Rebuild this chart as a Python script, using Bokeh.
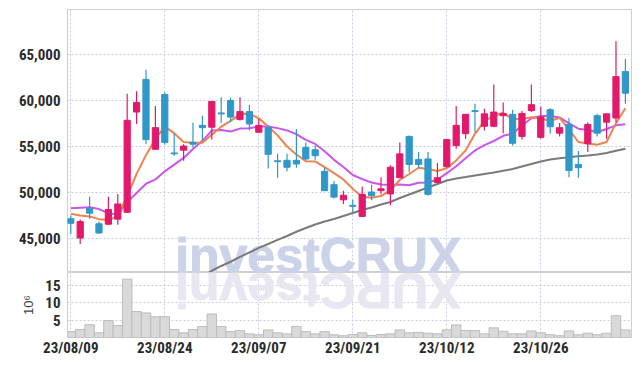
import math
from bokeh.plotting import figure
from bokeh.models import ColumnDataSource, FixedTicker, NumeralTickFormatter, Range1d, Label
from bokeh.layouts import column
from bokeh.embed import file_html
from bokeh.resources import INLINE

# ---------------- data ----------------
dates = ["23/08/09", "23/08/10", "23/08/11", "23/08/14", "23/08/16", "23/08/17", "23/08/18", "23/08/21",
         "23/08/22", "23/08/23", "23/08/24", "23/08/25", "23/08/28", "23/08/29", "23/08/30", "23/08/31",
         "23/09/01", "23/09/04", "23/09/05", "23/09/06", "23/09/07", "23/09/08", "23/09/11", "23/09/12",
         "23/09/13", "23/09/14", "23/09/15", "23/09/18", "23/09/19", "23/09/20", "23/09/21", "23/09/22",
         "23/09/25", "23/09/26", "23/09/27", "23/10/04", "23/10/05", "23/10/06", "23/10/10", "23/10/11",
         "23/10/12", "23/10/13", "23/10/16", "23/10/17", "23/10/18", "23/10/19", "23/10/20", "23/10/23",
         "23/10/24", "23/10/25", "23/10/26", "23/10/27", "23/10/30", "23/10/31", "23/11/01", "23/11/02",
         "23/11/03", "23/11/06", "23/11/07", "23/11/08"]

opens = [47150, 45050, 48300, 46600, 46550, 47100, 47850, 58750, 62300, 54700,
         60650, 54300, 54600, 55450, 57300, 57100, 58650, 60000, 57950, 58800,
         56550, 57050, 53450, 53500, 53500, 54900, 54650, 52300, 50850, 49200,
         48600, 47400, 50050, 50200, 49850, 51600, 56100, 53600, 53650, 51100,
         52800, 55100, 56400, 58900, 57200, 57200, 58350, 58500, 56100, 58900,
         56000, 59000, 56450, 57400, 53050, 55300, 58350, 57650, 58100, 63150]
highs = [47500, 47050, 49550, 46850, 49550, 49850, 60750, 61000, 63350, 59400,
         60900, 56400, 55250, 57600, 58350, 59950, 60350, 60300, 60350, 59550,
         58000, 57300, 54200, 54200, 56900, 55450, 55100, 52700, 51250, 50200,
         49200, 50650, 50850, 51650, 52950, 55450, 56200, 54400, 54400, 53200,
         55800, 59400, 58500, 59650, 59100, 61750, 59800, 59000, 58850, 61750,
         59350, 59200, 57550, 58100, 54500, 57650, 58550, 58600, 66450, 64550]
lows = [45500, 44400, 47150, 45500, 46500, 46500, 47800, 57450, 55300, 54650,
        55200, 54000, 53450, 54900, 55650, 55750, 57550, 57650, 57800, 56750,
        56500, 52600, 51600, 52300, 52700, 53500, 53550, 50150, 49350, 48750,
        47850, 47400, 49150, 49800, 48600, 51600, 52200, 52700, 49650, 51100,
        52750, 54750, 55850, 56550, 56750, 57100, 56450, 55100, 55750, 58750,
        55850, 56400, 56100, 51650, 51600, 54400, 56100, 55850, 57650, 59650]
closes = [46650, 46850, 47750, 45600, 48150, 48750, 57850, 59800, 55750, 57050,
          55450, 54200, 55050, 55250, 57050, 59900, 58550, 58200, 58800, 57450,
          57300, 54150, 53350, 52750, 53100, 53650, 54000, 50200, 49500, 49700,
          48500, 49800, 49650, 50400, 52750, 54200, 53050, 53050, 49800, 51600,
          55750, 57300, 58500, 58800, 58550, 58750, 58600, 55350, 58600, 59550,
          58200, 57150, 57050, 52400, 52700, 57400, 56450, 58550, 62600, 60800]

# volume, in millions of shares
volume_m = [1.7, 2.3, 3.7, 1.35, 4.9, 3.45, 16.9, 7.5, 7.1, 6.0,
            6.0, 2.3, 1.35, 2.3, 3.2, 6.8, 3.2, 1.7, 2.0, 1.05,
            0.8, 2.2, 1.35, 1.05, 3.2, 1.7, 1.05, 1.7, 0.8, 0.5,
            0.86, 1.35, 0.57, 0.86, 1.05, 2.2, 1.35, 1.5, 1.25, 1.05,
            2.2, 3.65, 2.0, 2.0, 1.05, 2.8, 1.8, 1.05, 1.05, 1.9,
            1.35, 0.8, 0.5, 1.9, 0.8, 1.25, 0.8, 1.25, 6.3, 2.2]

ma5 = [47700, 47500, 47400, 47100, 47000, 47420, 49620, 52020, 54060, 55830,
       57170, 56450, 55500, 55400, 55400, 56290, 57160, 57790, 58500, 58580,
       58060, 57170, 56210, 55000, 54130, 53400, 53380, 52750, 52100, 51420,
       50390, 49540, 49430, 49610, 50220, 51360, 52010, 52690, 52560, 52330,
       52640, 53490, 54570, 56380, 57770, 58370, 58640, 58010, 57980, 58180,
       58070, 57780, 58120, 56870, 55490, 55330, 55190, 55490, 57540, 59160]

ma10 = [48300, 48350, 48400, 48200, 47750, 47600, 48950, 49950, 50950, 51420,
        52300, 53030, 53760, 54730, 55620, 56730, 56800, 56640, 56950, 56990,
        57170, 57170, 57000, 56750, 56350, 55730, 55280, 54480, 53550, 52770,
        51900, 51460, 51090, 50860, 50820, 50880, 50780, 51060, 51090, 51380,
        52100, 52850, 53730, 54570, 55150, 55600, 56160, 56390, 57280, 58070,
        58320, 58310, 58160, 57520, 56940, 56800, 56580, 56900, 57300, 57420]

nan = float("nan")
ma60 = [nan] * 14 + [40900, 41490, 42010, 42470, 42990, 43480,
                     43970, 44400, 44840, 45270, 45730, 46140, 46520, 46850, 47120, 47450,
                     47770, 48100, 48370, 48700, 48970, 49400, 49780, 50160, 50540, 50920,
                     51300, 51520, 51680, 51850, 52010, 52170, 52360, 52550, 52830, 53100,
                     53370, 53590, 53720, 53840, 53930, 54020, 54130, 54290, 54530, 54750]

x_tick_idx = [0, 10, 20, 30, 40, 50]
price_ticks = [45000, 50000, 55000, 60000, 65000]
vol_ticks = [5, 10, 15]

# ---------------- styling ----------------
RED = "#e2196b"
BLUE = "#3097c9"
GRID = "#c6cbe2"
LABEL_FONT = "'Roboto Condensed', 'DejaVu Sans Condensed', 'Liberation Sans Narrow', Roboto"
LABEL_COLOR = "#2b2b2b"
WM_COLOR = "#ccd3e8"
WM_REFL = "#e8e6f0"

idx = list(range(len(dates)))
colors = [RED if c >= o else BLUE for o, c in zip(opens, closes)]
src = ColumnDataSource(dict(
    x=idx, high=highs, low=lows,
    top=[max(o, c) for o, c in zip(opens, closes)],
    bottom=[min(o, c) for o, c in zip(opens, closes)],
    color=colors, vol=volume_m, ma5=ma5, ma10=ma10, ma60=ma60,
))

x_range = Range1d(-0.35, 59.65)

p = figure(frame_width=564, frame_height=263, x_range=x_range,
           y_range=Range1d(41300, 69900), output_backend="svg", toolbar_location=None,
           min_border_left=67, min_border_right=4, min_border_top=9, min_border_bottom=0)
p.xaxis.visible = False
p.xgrid.ticker = FixedTicker(ticks=x_tick_idx)
p.yaxis.ticker = FixedTicker(ticks=price_ticks)
p.yaxis.formatter = NumeralTickFormatter(format="0,0")
for g in (p.xgrid, p.ygrid):
    g.grid_line_color = GRID
    g.grid_line_dash = "2 2"
    g.grid_line_width = 1
p.outline_line_color = "#cfcfcf"
p.outline_line_width = 1

wm = Label(x=11.1, y=41300, text="investCRUX", text_font="Liberation Sans",
           text_font_style="bold", text_font_size="50px", text_color=WM_COLOR,
           text_outline_color=WM_COLOR,
           text_baseline="bottom", y_offset=-11, level="underlay")
p.add_layout(wm)

p.line("x", "ma60", source=src, line_color="#7a7a7a", line_width=2)
p.line("x", "ma10", source=src, line_color="#cc55ee", line_width=2)
p.line("x", "ma5", source=src, line_color="#ee8350", line_width=2)
p.segment(x0="x", y0="low", x1="x", y1="high", source=src, line_color="color", line_width=1.2)
p.vbar(x="x", width=0.66, top="top", bottom="bottom", source=src,
       fill_color="color", line_color="color", line_width=1)

v = figure(frame_width=564, frame_height=65, x_range=x_range, y_range=Range1d(0, 18.8),
           output_backend="svg", toolbar_location=None,
           min_border_left=67, min_border_right=4, min_border_top=0, min_border_bottom=4)
v.xaxis.ticker = FixedTicker(ticks=x_tick_idx)
v.xaxis.major_label_overrides = {i: dates[i] for i in x_tick_idx}
v.yaxis.ticker = FixedTicker(ticks=vol_ticks)
v.yaxis.axis_label = "10\u2076"
v.yaxis.axis_label_text_font = "Liberation Sans"
v.yaxis.axis_label_text_font_style = "normal"
v.yaxis.axis_label_text_font_size = "13px"
v.yaxis.axis_label_text_color = "#444444"
v.yaxis.axis_label_standoff = 6
for g in (v.xgrid, v.ygrid):
    g.grid_line_color = GRID
    g.grid_line_dash = "2 2"
    g.grid_line_width = 1
v.outline_line_color = "#cfcfcf"
v.outline_line_width = 1

refl = Label(x=11.1, y=18.8, text="XURCtsevni", angle=math.pi, text_font="Liberation Sans",
             text_font_style="bold", text_font_size="50px", text_color=WM_REFL,
             text_outline_color=WM_REFL,
             text_align="right", text_baseline="bottom", y_offset=11, level="underlay")
v.add_layout(refl)

v.vbar(x="x", width=1.0, top="vol", bottom=0, source=src,
       fill_color="#d9d9d9", line_color="#bcbcbc", line_width=1)

for fig in (p, v):
    for ax in fig.axis:
        ax.axis_line_color = None
        ax.major_tick_line_color = None
        ax.minor_tick_line_color = None
        ax.major_tick_out = 0
        ax.major_tick_in = 0
        ax.major_label_text_font = LABEL_FONT
        ax.major_label_text_font_style = "bold"
        ax.major_label_text_font_size = "15px"
        ax.major_label_text_color = LABEL_COLOR
    fig.yaxis.major_label_standoff = 7
v.xaxis.major_label_standoff = 1

layout = column(p, v, spacing=0)
open("out.html", "w").write(file_html(layout, INLINE))
